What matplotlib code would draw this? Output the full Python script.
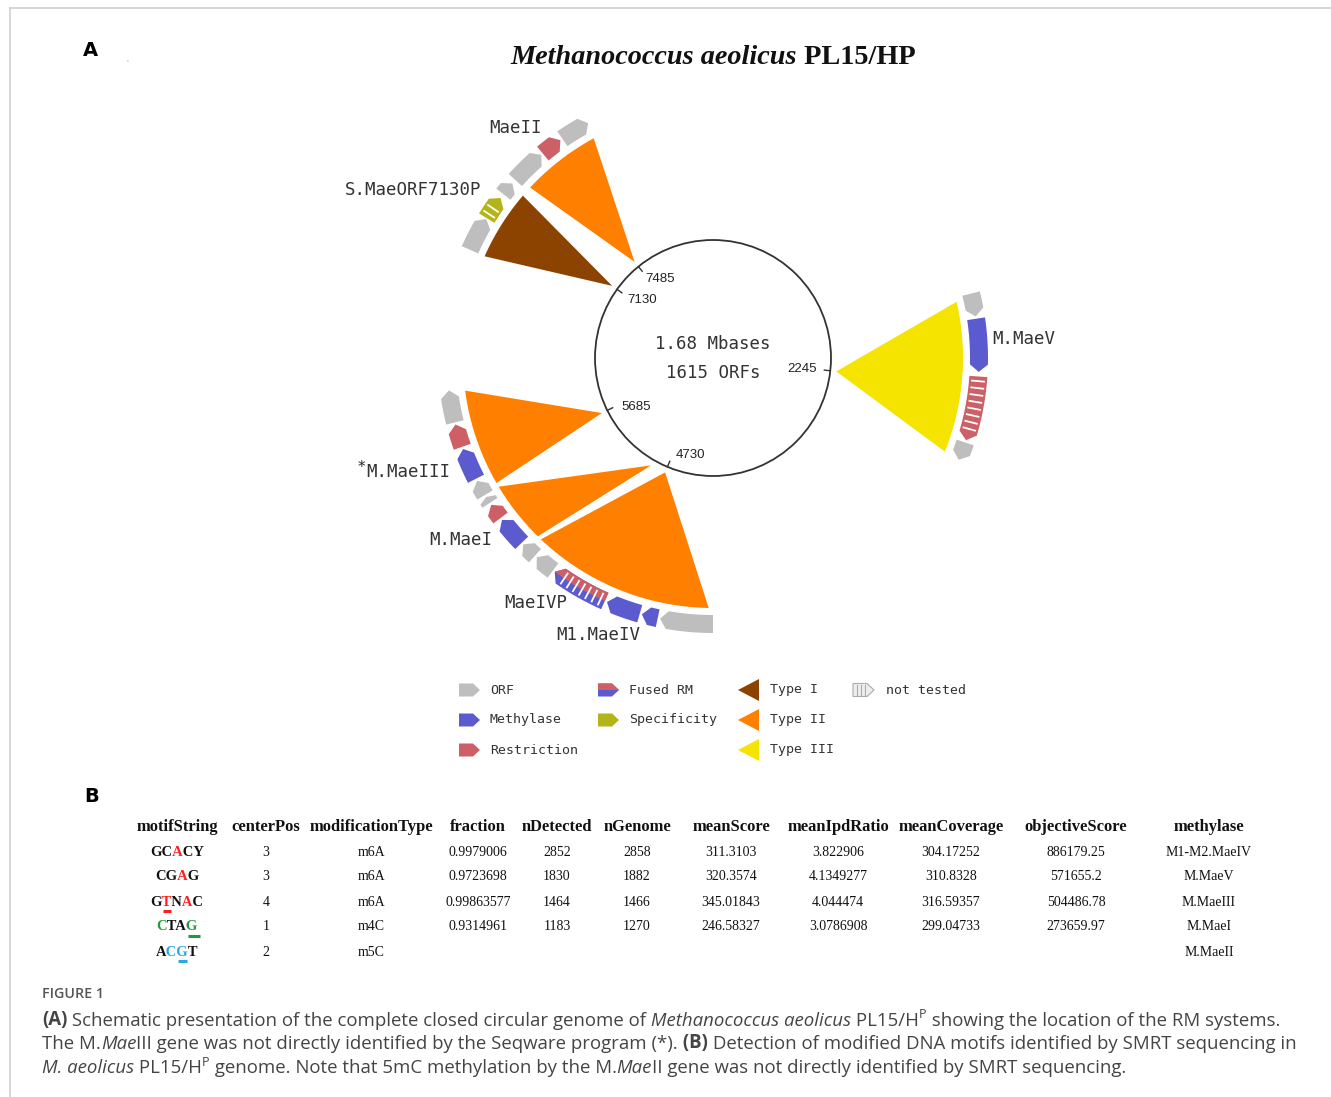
import numpy as np
from matplotlib import pyplot as plt
from matplotlib.patches import Polygon, Circle, Rectangle
from matplotlib.font_manager import FontProperties, findfont, get_font

# --------------------------
# DATA
# --------------------------

# genome map, positions in the units of the map ticks (full circle ~8400)
GENOME_LEN = 8400
GENOME_SIZE = "1.68 Mbases"
GENOME_ORFS = "1615 ORFs"
TICKS = [2245, 4730, 5685, 7130, 7485]

# genes around the map
GENE_START = [6860, 7040, 7187, 7280, 7472, 7595,
              1773, 1902, 2193, 2532,
              4200, 4480, 4573, 4760, 5063, 5180, 5273, 5437, 5530, 5577, 5670, 5845, 5973]
GENE_END = [7035, 7163, 7257, 7462, 7583, 7747,
            1890, 2170, 2520, 2625,
            4468, 4562, 4748, 5052, 5168, 5262, 5425, 5518, 5565, 5658, 5833, 5962, 6137]
GENE_KIND = ['orf', 'spec', 'orf', 'orf', 'res', 'orf',
             'orf', 'met', 'res', 'orf',
             'orf', 'met', 'met', 'fused', 'orf', 'orf', 'met', 'res', 'orf', 'orf', 'met', 'res', 'orf']
GENE_NOT_TESTED = [False, True, False, False, False, False,
                   False, False, True, False,
                   False, False, False, True, False, False, False, False, False, False, False, False, False]

LABEL_GENE = [4, 1, 7, 20, 16, 13, 11]
LABEL_TEXT = ['MaeII', 'S.MaeORF7130P', 'M.MaeV', 'M.MaeIII', 'M.MaeI', 'MaeIVP', 'M1.MaeIV']

# RM systems (wedges): type, site on the genome, region covered
RM_TYPE = ['I', 'II', 'III', 'II', 'II', 'II']
RM_SITE = [7130, 7485, 2245, 5685, 4900, 4730]
RM_FROM = [6860, 7303, 1797, 5600, 5238, 4223]
RM_TO = [7245, 7735, 2613, 6125, 5577, 5215]

# table B
COLUMNS = ['motifString', 'centerPos', 'modificationType', 'fraction', 'nDetected', 'nGenome',
           'meanScore', 'meanIpdRatio', 'meanCoverage', 'objectiveScore', 'methylase']
MOTIFS = ['GCACY', 'CGAG', 'GTNAC', 'CTAG', 'ACGT']
MOTIF_COLORS = [['k', 'k', 'r', 'k', 'k'],
                ['k', 'k', 'r', 'k'],
                ['k', 'r', 'k', 'r', 'k'],
                ['g', 'k', 'k', 'g'],
                ['k', 'b', 'b', 'k']]
MOTIF_UNDERLINE = [None, None, 1, 3, 2]
CENTER_POS = ['3', '3', '4', '1', '2']
MOD_TYPE = ['m6A', 'm6A', 'm6A', 'm4C', 'm5C']
FRACTION = ['0.9979006', '0.9723698', '0.99863577', '0.9314961', '']
N_DETECTED = ['2852', '1830', '1464', '1183', '']
N_GENOME = ['2858', '1882', '1466', '1270', '']
MEAN_SCORE = ['311.3103', '320.3574', '345.01843', '246.58327', '']
MEAN_IPD = ['3.822906', '4.1349277', '4.044474', '3.0786908', '']
MEAN_COV = ['304.17252', '310.8328', '316.59357', '299.04733', '']
OBJECTIVE = ['886179.25', '571655.2', '504486.78', '273659.97', '']
METHYLASE = ['M1-M2.MaeIV', 'M.MaeV', 'M.MaeIII', 'M.MaeI', 'M.MaeII']

CAPTION = [
    [('(A)', 'b'), (' Schematic presentation of the complete closed circular genome of', 'n'),
     (' Methanococcus aeolicus', 'i'), (' PL15/H', 'n'), ('P', 'sup'),
     (' showing the location of the RM systems.', 'n')],
    [('The M.', 'n'), ('Mae', 'i'), ('III gene was not directly identified by the Seqware program (*).', 'n'),
     (' (B)', 'b'), (' Detection of modified DNA motifs identified by SMRT sequencing in', 'n')],
    [('M. aeolicus', 'i'), (' PL15/H', 'n'), ('P', 'sup'),
     (' genome. Note that 5mC methylation by the M.', 'n'), ('Mae', 'i'),
     ('II gene was not directly identified by SMRT sequencing.', 'n')],
]

# --------------------------
# STYLE / LAYOUT
# --------------------------

GENE_COL = {'orf': '#bebebe', 'met': '#5b5bcf', 'res': '#cc6066', 'spec': '#b3b418', 'fused': '#5b5bcf'}
RM_COL = {'I': '#8c4300', 'II': '#ff7f00', 'III': '#f5e300'}
TXT_COL = {'k': '#111111', 'r': '#ff1f1f', 'g': '#1c9c3c', 'b': '#2aa6e0'}

CX, CY = 713, 358
R_GENOME, R_APEX, R_WEDGE = 118, 124, 250
R_IN, R_OUT = 257, 275
R_MID = (R_IN + R_OUT) / 2

# label offsets: (delta angle, delta radius, ha)
LABEL_LAYOUT = [(-3.3, 37, 'center'), (1.5, 20, 'right'), (-1.1, 14, 'left'), (0, 20, 'right'),
                (1.2, 20, 'right'), (0.5, 19, 'right'), (1.0, 20, 'right')]

MONO = 'DejaVu Sans Mono'
SERIF = 'Liberation Serif'
DPI = 100


def ang(pos):
    return pos / GENOME_LEN * 360.0


def pt(deg, r):
    a = np.radians(deg)
    return CX + r * np.sin(a), CY - r * np.cos(a)


def gene_outline(a0, a1, r0, r1, rtip):
    tip = min(1.6, 0.5 * (a1 - a0))
    body = a1 - tip
    inner = [pt(a, r0) for a in np.linspace(a0, body, 20)]
    outer = [pt(a, r1) for a in np.linspace(body, a0, 20)]
    return inner + [pt(a1, rtip)] + outer


def rich(ax, x, y, parts, ha='left', **base):
    arts = []
    for i, (s, st) in enumerate(parts):
        kw = dict(base)
        kw.update(st)
        sup = kw.pop('sup', False)
        if i == 0:
            t = ax.text(x, y, s, ha='left', va='center', **kw)
        else:
            t = ax.annotate(s, xy=(1, 0.45 if sup else 0), xycoords=(arts[-1], arts[0]),
                            ha='left', va='bottom', **kw)
        arts.append(t)
    if ha == 'center':
        r = ax.figure.canvas.get_renderer()
        w = arts[-1].get_window_extent(r).x1 - arts[0].get_window_extent(r).x0
        arts[0].set_x(x - w / 2)
    return arts


fig = plt.figure(figsize=(13.31, 10.97), dpi=DPI)
ax = fig.add_axes([0, 0, 1, 1])
ax.set_xlim(0, 1331)
ax.set_ylim(1097, 0)
ax.axis('off')
renderer = fig.canvas.get_renderer()

# frame lines
ax.plot([10, 1331], [8, 8], color='#cfcfcf', lw=1.2)
ax.plot([10, 10], [8, 1097], color='#cfcfcf', lw=1.2)

# panel A title
ax.text(90, 51, 'A', fontsize=14, fontweight='bold', ha='center', va='center')
ax.text(127, 62, "'", fontsize=5, color='#999999', ha='center', va='center')
rich(ax, 713, 57, [('Methanococcus aeolicus', {'style': 'italic'}), (' PL15/HP', {})],
     ha='center', family=SERIF, fontsize=20.3, fontweight='bold', color='#111111')

# genome circle
ax.add_patch(Circle((CX, CY), R_GENOME, fill=False, ec='#333333', lw=1.3))
ax.text(CX, 344, GENOME_SIZE, family=MONO, fontsize=12.5, ha='center', va='center', color='#333333')
ax.text(CX, 373, GENOME_ORFS, family=MONO, fontsize=12.5, ha='center', va='center', color='#333333')
for p in TICKS:
    a = ang(p)
    (x0, y0), (x1, y1) = pt(a, R_GENOME), pt(a, R_GENOME - 6)
    ax.plot([x0, x1], [y0, y1], color='#333333', lw=1)
    if a < 180:
        lx, ly = pt(a, 104)
        ax.text(lx, ly, str(p), fontsize=9.5, family='Liberation Sans', ha='right', va='center', color='#222222')
    else:
        lx, ly = pt(a - 1.5, 104)
        ax.text(lx, ly, str(p), fontsize=9.5, family='Liberation Sans', ha='left', va='center', color='#222222')

# RM wedges
for typ, site, a_from, a_to in zip(RM_TYPE, RM_SITE, RM_FROM, RM_TO):
    verts = [pt(ang(site), R_APEX)] + [pt(a, R_WEDGE) for a in np.linspace(ang(a_from), ang(a_to), 40)]
    ax.add_patch(Polygon(verts, closed=True, fc=RM_COL[typ], ec='none'))

# genes
for s, e, kind, nt in zip(GENE_START, GENE_END, GENE_KIND, GENE_NOT_TESTED):
    a0, a1 = ang(s), ang(e)
    ax.add_patch(Polygon(gene_outline(a0, a1, R_IN, R_OUT, R_MID), closed=True, fc=GENE_COL[kind], ec='none'))
    if kind == 'fused':
        ax.add_patch(Polygon(gene_outline(a0, a1, R_IN, R_MID, R_MID), closed=True,
                             fc=GENE_COL['res'], ec='none'))
    if nt:
        for a in np.arange(a0 + 1.0, a1 - 1.6, 1.5):
            (x0, y0), (x1, y1) = pt(a, R_IN + 3), pt(a, R_OUT - 3)
            ax.plot([x0, x1], [y0, y1], color='white', lw=1.3)

# gene labels
for gi, txt, (da, dr, ha) in zip(LABEL_GENE, LABEL_TEXT, LABEL_LAYOUT):
    a = (ang(GENE_START[gi]) + ang(GENE_END[gi])) / 2 + da
    lx, ly = pt(a, R_MID + dr)
    t = ax.text(lx, ly, txt, family=MONO, fontsize=12.5, ha=ha, va='center', color='#333333')
    if txt == 'M.MaeIII':
        ax.annotate('*', xy=(0, 1), xycoords=t, ha='right', va='top', fontsize=11, color='#222222',
                    xytext=(-1, 2), textcoords='offset points')


# legend
def pentagon(x, y, w=21, h=13, tip=7):
    return [(x, y - h / 2), (x + w - tip, y - h / 2), (x + w, y), (x + w - tip, y + h / 2), (x, y + h / 2)]


leg_font = dict(family=MONO, fontsize=9.5, va='center', color='#333333')
for kind, x, y, lab in [('orf', 459, 690, 'ORF'), ('met', 459, 720, 'Methylase'),
                        ('res', 459, 750, 'Restriction'), ('spec', 598, 720, 'Specificity')]:
    ax.add_patch(Polygon(pentagon(x, y), closed=True, fc=GENE_COL[kind], ec='none'))
    ax.text(x + 31, y, lab, **leg_font)
# fused RM icon
ax.add_patch(Polygon(pentagon(598, 690), closed=True, fc=GENE_COL['met'], ec='none'))
ax.add_patch(Polygon([(598, 683.5), (612, 683.5), (619, 690), (598, 690)], closed=True,
                     fc=GENE_COL['res'], ec='none'))
ax.text(629, 690, 'Fused RM', **leg_font)
# not tested icon
ax.add_patch(Polygon(pentagon(853, 690), closed=True, fc='#eeeeee', ec='#aaaaaa', lw=0.8))
for xs in [857, 861, 865]:
    ax.plot([xs, xs], [685, 695], color='#aaaaaa', lw=0.8)
ax.text(886, 690, 'not tested', **leg_font)
for typ, y in zip(['I', 'II', 'III'], [690, 720, 750]):
    ax.add_patch(Polygon([(738, y), (759, y - 11), (759, y + 11)], closed=True, fc=RM_COL[typ], ec='none'))
    ax.text(770, y, 'Type ' + typ, **leg_font)

# panel B table
ax.text(92, 797, 'B', fontsize=14, fontweight='bold', ha='center', va='center')
col_x = [177, 266, 371, 478, 557, 637, 731, 838, 951, 1076, 1209]
row_y = [852, 877, 902, 927, 952]
for cx, name in zip(col_x, COLUMNS):
    ax.text(cx, 827, name, family=SERIF, fontsize=11.9, fontweight='bold', ha='center', va='center',
            color='#111111')

columns = [CENTER_POS, MOD_TYPE, FRACTION, N_DETECTED, N_GENOME, MEAN_SCORE, MEAN_IPD, MEAN_COV,
           OBJECTIVE, METHYLASE]
for cx, vals in zip(col_x[1:], columns):
    for y, v in zip(row_y, vals):
        ax.text(cx, y, v, family=SERIF, fontsize=10, ha='center', va='center', color='#111111')

# motif strings: the whole string is drawn once per colour run, clipped to that run
motif_size = 10.5
motif_font = get_font(findfont(FontProperties(family=SERIF, weight='bold')))
motif_font.set_size(motif_size, DPI)
motif_kw = dict(family=SERIF, fontsize=motif_size, fontweight='bold', ha='center', va='center')
for y, motif, cols, ul in zip(row_y, MOTIFS, MOTIF_COLORS, MOTIF_UNDERLINE):
    probe = ax.text(col_x[0], y, motif, **motif_kw)
    bb = probe.get_window_extent(renderer)
    probe.remove()
    adv = np.array([motif_font.load_char(ord(ch)).linearHoriAdvance / 65536 for ch in motif])
    edges = bb.x0 + np.concatenate([[0], np.cumsum(adv)]) / adv.sum() * bb.width
    edges[0] -= 3
    edges[-1] += 3
    i = 0
    while i < len(motif):
        j = i
        while j + 1 < len(motif) and cols[j + 1] == cols[i]:
            j += 1
        t = ax.text(col_x[0], y, motif, color=TXT_COL[cols[i]], clip_on=True, **motif_kw)
        t.set_clip_path(Rectangle((edges[i], y - 15), edges[j + 1] - edges[i], 30, transform=ax.transData))
        i = j + 1
    if ul is not None:
        ax.plot([edges[ul] + 1, edges[ul + 1] - 1], [y + 8.5, y + 8.5], color=TXT_COL[cols[ul]], lw=2.2,
                solid_capstyle='butt')

# caption
ax.text(42, 994, 'FIGURE 1', family='Open Sans', fontsize=10.3, fontweight='semibold', va='center',
        color='#555555')
styles = {'n': {}, 'i': {'style': 'italic'}, 'b': {'fontweight': 'bold'}, 'sup': {'sup': True, 'fontsize': 9}}
for y, line in zip([1020, 1044, 1068], CAPTION):
    rich(ax, 42, y, [(s, styles[st]) for s, st in line], family='Open Sans', fontsize=13.4, color='#444444')

fig.savefig('out.png', dpi=DPI)
